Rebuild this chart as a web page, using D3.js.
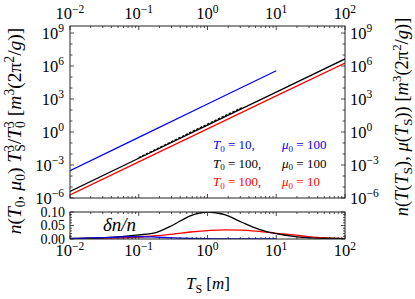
<!DOCTYPE html>
<html>
<head>
<meta charset="utf-8">
<script src="https://cdn.jsdelivr.net/npm/d3@7"></script>
<style>
  body { margin: 0; background: #fff; }
  svg { display: block; }
  text { font-family: "Liberation Serif", "DejaVu Serif", serif; fill: #000; }
</style>
</head>
<body>
<div id="chart"></div>
<script>
// main panel lines, n T_S^3/T_0^3 against T_S
var tMain  = [0.01, 0.1, 1, 10, 100];
var nBlack = [4.0e-6, 4.1e-3, 4.2, 4.3e3, 4.4e6];
var nRed   = [1.9e-6, 1.9e-3, 1.9, 1.9e3, 1.9e6];
var tBlue  = [0.01, 0.1, 1, 10];
var nBlue  = [3.0e-4, 0.32, 350, 3.7e5];

// relative difference panel
var tGrid  = [0.01, 0.0178, 0.0316, 0.0562, 0.1, 0.178, 0.316, 0.562, 1,
              1.78, 3.16, 5.62, 10, 17.8, 31.6, 56.2, 100];
var dBlack = [0.002, 0.003, 0.005, 0.009, 0.015, 0.024, 0.052, 0.086, 0.100,
              0.090, 0.062, 0.036, 0.020, 0.010, 0.004, 0.002, 0.001];
var dRed   = [0.001, 0.002, 0.003, 0.004, 0.007, 0.012, 0.018, 0.026, 0.031,
              0.034, 0.033, 0.028, 0.021, 0.015, 0.008, 0.004, 0.001];
var dBlue  = [0.001, 0.003, 0.005, 0.008, 0.009, 0.007, 0.004, 0.002, 0.001,
              0.000, 0.000, 0.000, 0.000];

var xTicks     = [-2, -1, 0, 1, 2];
var yMainTicks = [-6, -3, 0, 3, 6, 9];
var ySubTicks  = [0, 0.05, 0.1];
var ySubLabels = ["0.00", "0.05", "0.10"];

var legend = [
  {color: "#0000ff", T: "10",  mu: "100"},
  {color: "#000000", T: "100", mu: "100"},
  {color: "#ff0000", T: "100", mu: "10"}
];

var W = 415, H = 299;
var main = {left: 70, right: 345, top: 26, bottom: 198};
var sub  = {left: 70, right: 345, top: 212, bottom: 239};

var svg = d3.select("#chart").append("svg")
  .attr("width", W).attr("height", H);

var x = d3.scaleLog().domain([0.01, 100]).range([main.left, main.right]);
var y = d3.scaleLog().domain([1e-6, Math.pow(10, 9.64)]).range([main.bottom, main.top]);
var ys = d3.scaleLinear().domain([0, 0.1]).range([sub.bottom, sub.top]);

// write a bit of math: parts are [text, italic?, "sup"|"sub"|"stack"]
// "stack" is a subscript drawn under the superscript just before it
function mathText(sel, px, py, parts, size, anchor) {
  var t = sel.append("text")
    .attr("x", px).attr("y", py)
    .attr("font-size", size)
    .attr("text-anchor", anchor || "start");
  var shift = 0, lastSup = "";
  parts.forEach(function(p) {
    var kind = p[2];
    var target = kind === "sup" ? -0.38 * size : (kind === "sub" || kind === "stack") ? 0.22 * size : 0;
    var ts = t.append("tspan")
      .attr("dy", target - shift)
      .attr("font-size", kind ? size * 0.7 : size)
      .attr("font-style", p[1] ? "italic" : "normal")
      .text(p[0]);
    if (kind === "stack") ts.attr("dx", -0.35 * size * lastSup.length);
    lastSup = kind === "sup" ? p[0] : "";
    shift = target;
  });
  return t;
}

function powLabel(e) {
  return [["10"], [e < 0 ? "\u2212" + (-e) : String(e), false, "sup"]];
}

// clip paths
svg.append("clipPath").attr("id", "clipMain").append("rect")
  .attr("x", main.left).attr("y", main.top)
  .attr("width", main.right - main.left).attr("height", main.bottom - main.top);
svg.append("clipPath").attr("id", "clipSub").append("rect")
  .attr("x", sub.left).attr("y", sub.top)
  .attr("width", sub.right - sub.left).attr("height", sub.bottom - sub.top);

// ---------- main lines
var line = d3.line()
  .x(function(d) { return x(d[0]); })
  .y(function(d) { return y(d[1]); });

var gMain = svg.append("g").attr("clip-path", "url(#clipMain)");

// log-log interpolation of the black line on the fine grid for the dashed curve
var logBlack = d3.scaleLinear()
  .domain(tMain.map(Math.log10))
  .range(nBlack.map(Math.log10));
var dashBlack = tGrid.map(function(t, i) {
  return [t, Math.pow(10, logBlack(Math.log10(t))) * (1 + dBlack[i])];
});

gMain.append("path").datum(d3.zip(tBlue, nBlue))
  .attr("d", line).attr("fill", "none").attr("stroke", "#0000ff").attr("stroke-width", 1.3);
gMain.append("path").datum(d3.zip(tMain, nRed))
  .attr("d", line).attr("fill", "none").attr("stroke", "#ff0000").attr("stroke-width", 1.3);
gMain.append("path").datum(d3.zip(tMain, nBlack))
  .attr("d", line).attr("fill", "none").attr("stroke", "#000").attr("stroke-width", 1.3);
gMain.append("path").datum(dashBlack.slice(4, 11))
  .attr("d", d3.line().curve(d3.curveMonotoneX)
    .x(function(d) { return x(d[0]); })
    .y(function(d) { return y(d[1]) - 0.6; }))
  .attr("fill", "none").attr("stroke", "#000").attr("stroke-width", 1.3)
  .attr("stroke-dasharray", "2.5,1.5");

// ---------- sub lines
var subLine = d3.line().curve(d3.curveMonotoneX)
  .x(function(d) { return x(d[0]); })
  .y(function(d) { return ys(d[1]); });

var gSub = svg.append("g").attr("clip-path", "url(#clipSub)");
gSub.append("path").datum(d3.zip(tGrid, dRed))
  .attr("d", subLine).attr("fill", "none").attr("stroke", "#ff0000").attr("stroke-width", 1.3);
gSub.append("path").datum(d3.zip(tGrid, dBlack))
  .attr("d", subLine).attr("fill", "none").attr("stroke", "#000").attr("stroke-width", 1.3);
gSub.append("path").datum(d3.zip(tGrid.slice(0, dBlue.length), dBlue))
  .attr("d", subLine).attr("fill", "none").attr("stroke", "#0000ff").attr("stroke-width", 1.3);

// ---------- frames and ticks
var frameColor = "#222";
[main, sub].forEach(function(p) {
  svg.append("rect")
    .attr("x", p.left).attr("y", p.top)
    .attr("width", p.right - p.left).attr("height", p.bottom - p.top)
    .attr("fill", "none").attr("stroke", frameColor).attr("stroke-width", 1);
});

var ticks = svg.append("g").attr("stroke", frameColor).attr("stroke-width", 0.8);

// x ticks on both panels, top and bottom
var xMinor = [];
for (var e = -2; e < 2; e++) {
  for (var k = 2; k <= 9; k++) xMinor.push(k * Math.pow(10, e));
}
[main, sub].forEach(function(p) {
  xTicks.forEach(function(e) {
    var xx = x(Math.pow(10, e));
    ticks.append("line").attr("x1", xx).attr("x2", xx).attr("y1", p.bottom).attr("y2", p.bottom - 4);
    ticks.append("line").attr("x1", xx).attr("x2", xx).attr("y1", p.top).attr("y2", p.top + 4);
  });
  xMinor.forEach(function(v) {
    var xx = x(v);
    ticks.append("line").attr("x1", xx).attr("x2", xx).attr("y1", p.bottom).attr("y2", p.bottom - 2);
    ticks.append("line").attr("x1", xx).attr("x2", xx).attr("y1", p.top).attr("y2", p.top + 2);
  });
});

// main y ticks, each decade, major every third
for (var d = -6; d <= 9; d++) {
  var yy = y(Math.pow(10, d));
  var len = d % 3 === 0 ? 4 : 2.5;
  ticks.append("line").attr("x1", main.left).attr("x2", main.left + len).attr("y1", yy).attr("y2", yy);
  ticks.append("line").attr("x1", main.right).attr("x2", main.right - len).attr("y1", yy).attr("y2", yy);
}

// sub y ticks
d3.range(0, 0.1001, 0.01).forEach(function(v, i) {
  var yy = ys(v);
  var len = i % 5 === 0 ? 4 : 2;
  ticks.append("line").attr("x1", sub.left).attr("x2", sub.left + len).attr("y1", yy).attr("y2", yy);
  ticks.append("line").attr("x1", sub.right).attr("x2", sub.right - len).attr("y1", yy).attr("y2", yy);
});

// ---------- tick labels
var fs = 16.5;
xTicks.forEach(function(e) {
  mathText(svg, x(Math.pow(10, e)), 19, powLabel(e), fs, "middle");
  mathText(svg, x(Math.pow(10, e)), 256, powLabel(e), fs, "middle");
});
yMainTicks.forEach(function(e) {
  var yy = y(Math.pow(10, e)) + 5.5;
  mathText(svg, 64, yy, powLabel(e), fs, "end");
  mathText(svg, 350, yy, powLabel(e), fs, "start");
});
ySubTicks.forEach(function(v, i) {
  mathText(svg, 65, ys(v) + 4.5, [[ySubLabels[i]]], 14, "end");
});

// ---------- legend text
legend.forEach(function(l, i) {
  var yy = 149 + i * 18.5;
  mathText(svg, 213, yy, [["T", true], ["0", false, "sub"], [" = " + l.T + ","]], 13)
    .attr("fill", l.color).selectAll("tspan").attr("fill", l.color);
  mathText(svg, 282, yy, [["\u03bc", true], ["0", false, "sub"], [" = " + l.mu]], 13)
    .attr("fill", l.color).selectAll("tspan").attr("fill", l.color);
});

// delta n / n
mathText(svg, 103, 231, [["\u03b4n/n", true]], 19);

// ---------- axis titles
mathText(svg, 208, 289, [["T", true], ["S", false, "sub"], [" ["], ["m", true], ["]"]], 17, "middle");

mathText(svg, 0, 0, [
  ["n", true], ["("], ["T", true], ["0", false, "sub"], [", "], ["\u03bc", true], ["0", false, "sub"],
  [") "], ["T", true], ["3", false, "sup"], ["S", false, "stack"], ["/"], ["T", true], ["3", false, "sup"],
  ["0", false, "stack"], [" ["], ["m", true], ["3", false, "sup"], ["(2\u03c0"], ["2", false, "sup"],
  ["/"], ["g", true], [")]"]
], 19.5, "middle").attr("transform", "translate(21,131) rotate(-90)");

mathText(svg, 0, 0, [
  ["n", true], ["("], ["T", true], ["("], ["T", true], ["S", false, "sub"], ["), "], ["\u03bc", true],
  ["("], ["T", true], ["S", false, "sub"], [")) ["], ["m", true], ["3", false, "sup"], ["(2\u03c0"],
  ["2", false, "sup"], ["/"], ["g", true], [")]"]
], 18.5, "middle").attr("transform", "translate(408,117) rotate(-90)");
</script>
</body>
</html>
